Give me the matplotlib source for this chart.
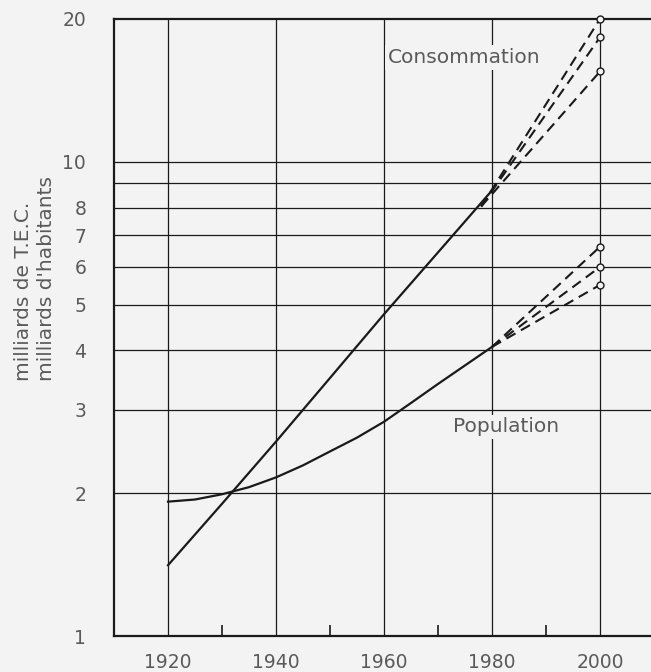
import numpy as np
import matplotlib
matplotlib.use('Agg')
import matplotlib.pyplot as plt

# ---- data (log scale values) ----
years = [1920, 1930, 1940, 1950, 1960, 1970, 1980]
consommation = [1.41, 1.90, 2.57, 3.50, 4.77, 6.44, 8.70]

pop_years = [1920, 1925, 1930, 1935, 1940, 1945, 1950, 1955, 1960, 1965, 1970, 1975, 1980]
population = [1.92, 1.94, 1.99, 2.06, 2.16, 2.29, 2.45, 2.62, 2.83, 3.10, 3.40, 3.72, 4.07]

# projections to 2000 (start point, end point)
cons_proj_start = (1978, 8.05)
cons_proj_end = [20.0, 18.3, 15.5]
pop_proj_start = (1980, 4.07)
pop_proj_end = [6.62, 6.0, 5.5]

ytick_vals = [1, 2, 3, 4, 5, 6, 7, 8, 10, 20]
hgrid_vals = [2, 3, 4, 5, 6, 7, 8, 9, 10]
xtick_vals = [1920, 1940, 1960, 1980, 2000]
xminor_vals = [1930, 1950, 1970, 1990]

bg = '#f3f3f3'
ink = '#1a1a1a'
txt = '#5a5a5a'

fig = plt.figure(figsize=(6.51, 6.72), dpi=100, facecolor=bg)
ax = fig.add_axes([114/651, 36/672, 537/651, 617/672])
ax.set_facecolor(bg)
ax.set_yscale('log')
ax.set_xlim(1910, 1910 + 537/5.4)
ax.set_ylim(1, 20)

# grid
for y in hgrid_vals:
    ax.axhline(y, color=ink, lw=0.9, zorder=1)
for x in xtick_vals:
    ax.axvline(x, color=ink, lw=0.9, zorder=1)

# main curves
ax.plot(years, consommation, color=ink, lw=1.6, zorder=3)
ax.plot(pop_years, population, color=ink, lw=1.6, zorder=3)

# dashed projections with open circles
for end in cons_proj_end:
    ax.plot([cons_proj_start[0], 2000], [cons_proj_start[1], end], color=ink,
            lw=1.5, ls=(0, (5, 3)), zorder=3)
    ax.plot(2000, end, 'o', ms=5, mfc=bg, mec=ink, mew=1.0, zorder=4, clip_on=False)
for end in pop_proj_end:
    ax.plot([pop_proj_start[0], 2000], [pop_proj_start[1], end], color=ink,
            lw=1.5, ls=(0, (5, 3)), zorder=3)
    ax.plot(2000, end, 'o', ms=5, mfc=bg, mec=ink, mew=1.0, zorder=4, clip_on=False)

# curve labels
ax.text(1960.7, 16.6, 'Consommation', fontsize=14.5, color=txt, ha='left', va='center',
        zorder=2, bbox=dict(facecolor=bg, edgecolor='none', pad=2))
ax.text(1972.8, 2.76, 'Population', fontsize=14.5, color=txt, ha='left', va='center',
        zorder=2, bbox=dict(facecolor=bg, edgecolor='none', pad=2))

# axes styling
ax.spines['right'].set_visible(False)
for s in ['left', 'bottom', 'top']:
    ax.spines[s].set_color(ink)
    ax.spines[s].set_linewidth(1.6)

ax.set_yticks(ytick_vals)
ax.set_yticklabels([str(v) for v in ytick_vals])
ax.yaxis.set_minor_locator(matplotlib.ticker.NullLocator())
ax.tick_params(axis='y', length=0, pad=20, labelsize=13.5, labelcolor=txt)

ax.set_xticks(xtick_vals)
ax.set_xticks(xminor_vals, minor=True)
ax.tick_params(axis='x', which='major', length=0, pad=12, labelsize=13.5, labelcolor=txt)
ax.tick_params(axis='x', which='minor', length=8, width=1.2, direction='in', color=ink)

fig.text(35/651, (672-381)/672, "milliards de T.E.C.\nmilliards d'habitants",
         rotation=90, ha='center', va='bottom', multialignment='left',
         fontsize=14.5, color=txt, linespacing=1.25)

fig.savefig('out.png', dpi=100, facecolor=bg)
